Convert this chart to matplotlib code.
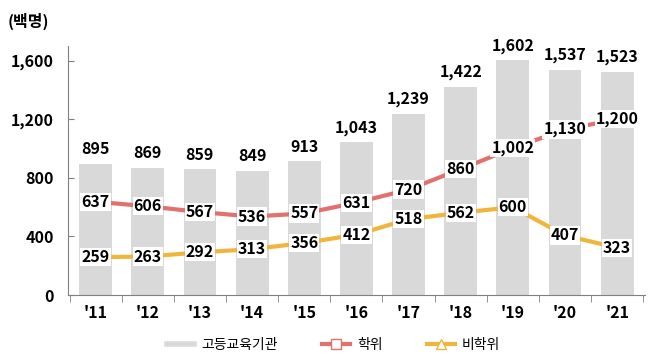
import matplotlib
matplotlib.use("Agg")
import matplotlib.pyplot as plt
import numpy as np
from matplotlib.lines import Line2D

plt.rcParams['font.family'] = ['Noto Sans CJK KR', 'DejaVu Sans']

years = ["'11", "'12", "'13", "'14", "'15", "'16", "'17", "'18", "'19", "'20", "'21"]
total = [895, 869, 859, 849, 913, 1043, 1239, 1422, 1602, 1537, 1523]
degree = [637, 606, 567, 536, 557, 631, 720, 860, 1002, 1130, 1200]
nondegree = [259, 263, 292, 313, 356, 412, 518, 562, 600, 407, 323]
yticks = [0, 400, 800, 1200, 1600]

bar_c = '#d9d9d9'
red_c = '#e3706c'
org_c = '#f2b53c'
fs = 11.5

fig = plt.figure(figsize=(6.6, 3.59), dpi=100)
ax = fig.add_axes([0.103, 0.178, 0.874, 0.694])
x = np.arange(len(years))
ax.bar(x, total, width=0.63, color=bar_c, zorder=1)
ax.plot(x, degree, color=red_c, lw=3, zorder=2)
ax.plot(x, nondegree, color=org_c, lw=3, zorder=2)

for xi, v in zip(x, total):
    ax.text(xi, v + 45, f"{v:,}", ha='center', va='bottom', fontsize=fs, fontweight='bold', zorder=5)
for xi, v in zip(x, degree):
    ax.text(xi, v, f"{v:,}", ha='center', va='center', fontsize=fs, fontweight='bold', zorder=5,
            bbox=dict(facecolor='white', edgecolor='none', pad=0.8))
for xi, v in zip(x, nondegree):
    ax.text(xi, v, f"{v:,}", ha='center', va='center', fontsize=fs, fontweight='bold', zorder=5,
            bbox=dict(facecolor='white', edgecolor='none', pad=0.8))

ax.set_xlim(-0.53, len(years) - 0.47)
ax.set_ylim(0, 1700)
ax.set_yticks(yticks)
ax.set_yticklabels([f"{v:,}" for v in yticks], fontsize=fs, fontweight='bold')
ax.set_xticks(x)
ax.set_xticklabels(years, fontsize=fs, fontweight='bold')
ax.tick_params(axis='x', length=0, pad=7)
ax.set_xticks(np.arange(-0.5, len(years), 1), minor=True)
ax.tick_params(axis='x', which='minor', length=5, color='#808080', direction='out')
ax.tick_params(axis='y', length=4, color='#808080', direction='in', pad=10)
for s in ['top', 'right']:
    ax.spines[s].set_visible(False)
for s in ['left', 'bottom']:
    ax.spines[s].set_color('#808080')
    ax.spines[s].set_linewidth(0.8)

fig.text(0.012, 0.94, "(백명)", fontsize=fs, fontweight='bold', va='center')

handles = [
    Line2D([], [], color=bar_c, lw=4),
    Line2D([], [], color=red_c, lw=3, marker='s', markersize=7, markerfacecolor='white', markeredgecolor=red_c),
    Line2D([], [], color=org_c, lw=3, marker='^', markersize=7, markerfacecolor='white', markeredgecolor=org_c),
]
fig.legend(handles, ['고등교육기관', '학위', '비학위'], loc='center', bbox_to_anchor=(0.505, 0.04),
           ncol=3, frameon=False, fontsize=10, handlelength=2.0, handletextpad=0.5, columnspacing=3.2)

fig.savefig('out.png', dpi=100)
